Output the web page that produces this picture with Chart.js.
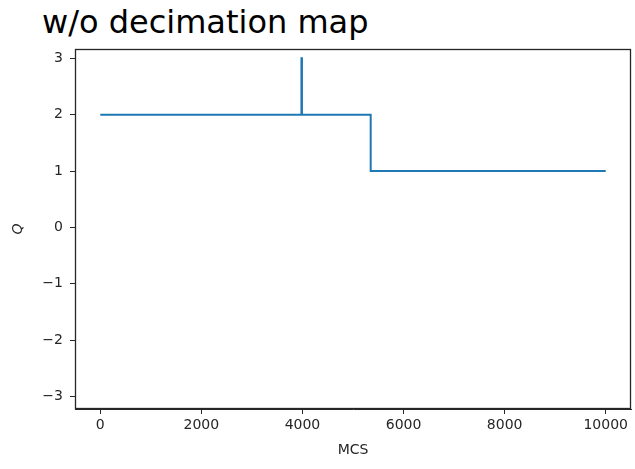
<!DOCTYPE html>
<html>
<head>
<meta charset="utf-8">
<script src="https://cdn.jsdelivr.net/npm/chart.js@4/dist/chart.umd.min.js"></script>
<style>
  html, body { margin: 0; padding: 0; background: #fff; }
  #wrap { position: relative; width: 635px; height: 469px; }
  #title {
    position: absolute; left: 42px; top: 6px; margin: 0;
    font-family: "DejaVu Sans", sans-serif; font-size: 32px; font-weight: normal;
    line-height: 32px; color: #000; white-space: nowrap;
  }
  canvas { position: absolute; left: 0; top: 0; }
</style>
</head>
<body>
<div id="wrap">
  <h1 id="title">w/o decimation map</h1>
  <canvas id="chart" width="635" height="469"></canvas>
</div>
<script>
// Q value of the run at each MCS where it changes (held until the next change)
const mcs = [0, 3980, 3990, 5350, 10000];
const q = [2, 3, 2, 1, 1];

// axis ticks
const xTicks = [0, 2000, 4000, 6000, 8000, 10000];
const yTicks = [-3, -2, -1, 0, 1, 2, 3];

const points = mcs.map((x, i) => ({ x: x, y: q[i] }));

const tickFont = { family: "'DejaVu Sans', sans-serif", size: 14 };
const ink = '#262626';

// closed frame around the plot area
const frame = {
  id: 'frame',
  afterDraw(chart) {
    const { ctx, chartArea: a } = chart;
    ctx.save();
    ctx.strokeStyle = ink;
    ctx.lineWidth = 1.3;
    ctx.strokeRect(a.left + 0.5, a.top + 0.5, a.right - a.left - 1, a.bottom - a.top - 1);
    ctx.restore();
  }
};

const minus = v => String(v).replace('-', '\u2212');

new Chart(document.getElementById('chart'), {
  type: 'line',
  data: {
    datasets: [{
      data: points,
      borderColor: '#1f77b4',
      borderWidth: 2,
      pointRadius: 0,
      stepped: 'before',
      fill: false
    }]
  },
  options: {
    responsive: false,
    animation: false,
    layout: { padding: { top: 49, right: 4, left: 0, bottom: 0 } },
    plugins: { legend: { display: false }, tooltip: { enabled: false } },
    scales: {
      x: {
        type: 'linear',
        min: -500,
        max: 10500,
        afterBuildTicks: s => { s.ticks = xTicks.map(v => ({ value: v })); },
        afterFit: s => { s.height = 60; },
        grid: { drawOnChartArea: false, drawTicks: true, tickLength: 5, tickColor: ink },
        border: { display: true, color: ink },
        ticks: { font: tickFont, color: ink, padding: 3, maxRotation: 0, callback: v => minus(v) },
        title: { display: true, text: 'MCS', font: tickFont, color: ink, padding: { top: 0, bottom: 10 } }
      },
      y: {
        type: 'linear',
        min: -3.22,
        max: 3.165,
        afterBuildTicks: s => { s.ticks = yTicks.map(v => ({ value: v })); },
        afterFit: s => { s.width = 75; },
        grid: { drawOnChartArea: false, drawTicks: true, tickLength: 5, tickColor: ink },
        border: { display: true, color: ink },
        ticks: { font: tickFont, color: ink, padding: 7, callback: v => minus(v) },
        title: { display: true, text: 'Q', font: { family: "'DejaVu Sans', sans-serif", size: 14, style: 'italic' }, color: ink, padding: { top: 10, bottom: 0 } }
      }
    }
  },
  plugins: [frame]
});
</script>
</body>
</html>
